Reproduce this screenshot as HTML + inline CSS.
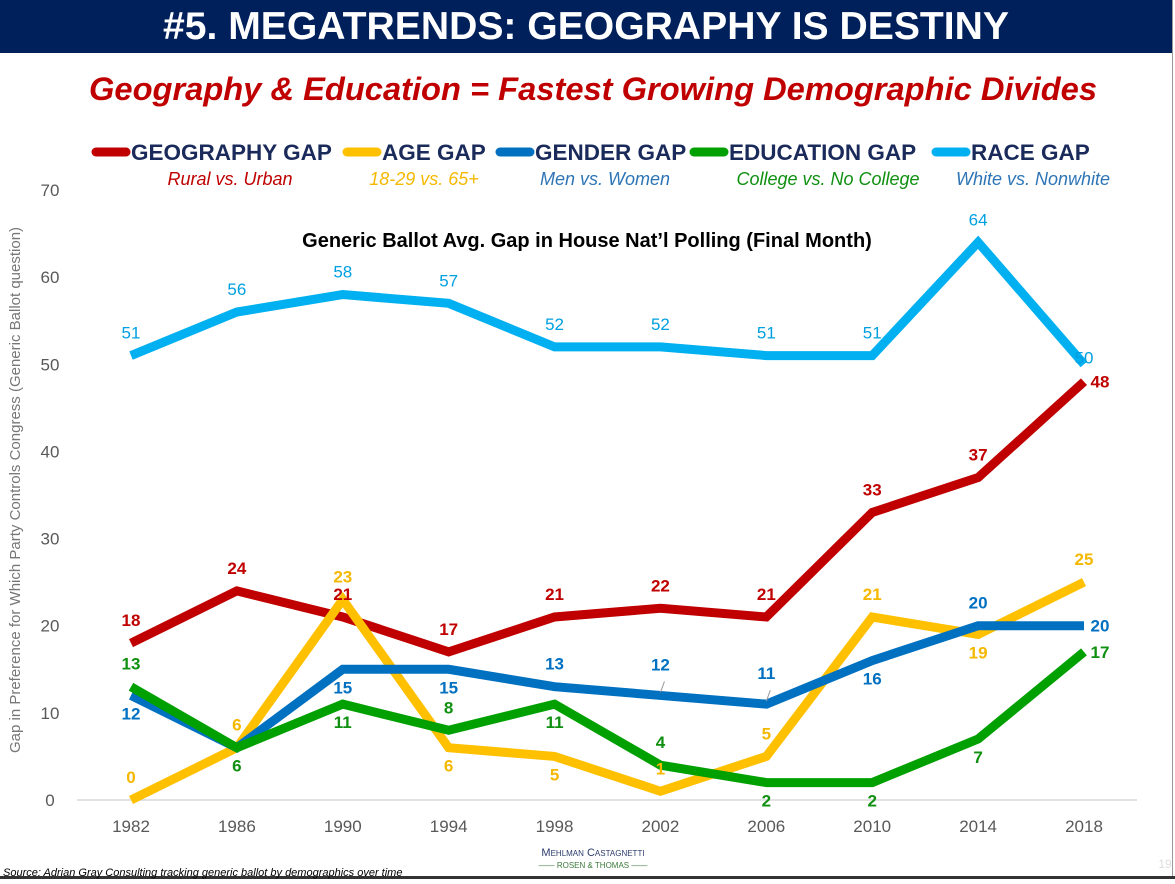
<!DOCTYPE html>
<html><head><meta charset="utf-8"><style>
body{margin:0;width:1175px;height:879px;overflow:hidden;background:#fff;font-family:"Liberation Sans",sans-serif}
</style></head><body>
<svg width="1175" height="879" xmlns="http://www.w3.org/2000/svg" id="svg">
<rect x="0" y="0" width="1172" height="53" fill="#00205b"/>
<line x1="1172.5" y1="0" x2="1172.5" y2="879" stroke="#999"/>
<rect x="0" y="876" width="1175" height="3" fill="#333"/>
<text x="586" y="39" text-anchor="middle" font-size="39" font-weight="bold" fill="#fff" textLength="846" lengthAdjust="spacingAndGlyphs">#5. MEGATRENDS: GEOGRAPHY IS DESTINY</text>
<text x="593" y="100" text-anchor="middle" font-size="32" font-weight="bold" font-style="italic" fill="#c00000" textLength="1008" lengthAdjust="spacingAndGlyphs">Geography &amp; Education = Fastest Growing Demographic Divides</text>
<g id="legend"></g>
<text x="587" y="247" text-anchor="middle" font-size="20" font-weight="bold" fill="#000">Generic Ballot Avg. Gap in House Nat’l Polling (Final Month)</text>
<text transform="translate(20,490) rotate(-90)" text-anchor="middle" font-size="15" fill="#777">Gap in Preference for Which Party Controls Congress (Generic Ballot question)</text>
<g id="axes"></g>
<g id="series"></g>
<text x="3" y="876" font-size="11" font-style="italic" fill="#000">Source: Adrian Gray Consulting tracking generic ballot by demographics over time</text>
<text x="593" y="856" text-anchor="middle" font-size="11" fill="#2b3a6b" font-variant="small-caps">Mehlman Castagnetti</text>
<text x="593" y="868" text-anchor="middle" font-size="8" fill="#3a7a3a">—— ROSEN &amp; THOMAS ——</text>
<text x="1165" y="868" text-anchor="middle" font-size="12" fill="#ddd">19</text>
</svg>
<script>
const years=[1982,1986,1990,1994,1998,2002,2006,2010,2014,2018];
const yTicks=[0,10,20,30,40,50,60,70];
const race=[51,56,58,57,52,52,51,51,64,50];
const geography=[18,24,21,17,21,22,21,33,37,48];
const age=[0,6,23,6,5,1,5,21,19,25];
const gender=[12,6,15,15,13,12,11,16,20,20];
const education=[13,6,11,8,11,4,2,2,7,17];
const legendNames=["GEOGRAPHY GAP","AGE GAP","GENDER GAP","EDUCATION GAP","RACE GAP"];
const legendSubs=["Rural vs. Urban","18-29 vs. 65+","Men vs. Women","College vs. No College","White vs. Nonwhite"];

const NS="http://www.w3.org/2000/svg";
const xS=i=>131+i*(1084-131)/(years.length-1);
const yS=v=>800-v*(800-190)/70;
function mk(tag,attrs,parent,txt){const e=document.createElementNS(NS,tag);for(const k in attrs)e.setAttribute(k,attrs[k]);if(txt!==undefined)e.textContent=txt;parent.appendChild(e);return e;}
const axes=document.getElementById('axes'),ser=document.getElementById('series'),leg=document.getElementById('legend');
let bl=mk('line',{x1:77,x2:1137,y1:yS(0),y2:yS(0),stroke:'#d9d9d9','stroke-width':1.5},axes);


yTicks.forEach(t=>{const e=mk('text',{x:50,y:yS(t)+6,'text-anchor':'middle','font-size':17,fill:'#595959'},axes,t);

});
years.forEach((y,i)=>{const e=mk('text',{x:xS(i),y:832,'text-anchor':'middle','font-size':17,fill:'#595959'},axes,y);

});

const series=[
 {name:'race',vals:race,col:'#00b0f0',lab:'#00a0e0',pos:['a','a','a','a','a','a','a','a','a','c']},
 {name:'geography',vals:geography,col:'#c00000',lab:'#c00000',pos:['a','a','a','a','a','a','a','a','a','r']},
 {name:'age',vals:age,col:'#ffc000',lab:'#f5b800',pos:['a','a','a','b','b','a','a','a','b','a']},
 {name:'gender',vals:gender,col:'#0070c0',lab:'#0070c0',pos:['b','n','b','b','a','A','A','b','a','r']},
 {name:'education',vals:education,col:'#00a000',lab:'#109010',pos:['a','b','b','a','b','a','b','b','b','r']}
];
series.forEach(s=>{
 const pts=s.vals.map((v,i)=>xS(i)+','+yS(v)).join(' ');
 const p=mk('polyline',{points:pts,fill:'none',stroke:s.col,'stroke-width':9,'stroke-linejoin':'miter'},ser);
 
 
});
series.forEach(s=>{
 s.vals.forEach((v,i)=>{
  const q=s.pos[i]; if(q==='n')return;
  let x=xS(i),y=yS(v);
  if(q==='a')y-=17; else if(q==='A'){
   const ld=mk('line',{x1:x,y1:y-3,x2:x+4,y2:y-14,stroke:'#999','stroke-width':1},ser);
   
   
   y-=25;
  } else if(q==='b')y+=24; else if(q==='r'){x+=16;y+=6;} else if(q==='c'){y-=1;}
  const t=mk('text',{x:x,y:y,'text-anchor':'middle','font-size':17,'font-weight':s.name==='race'?'normal':'bold',fill:s.lab},ser,v);
  
  
 });
});
const lx=[92,343,496,690,932],lcol=['#c00000','#ffc000','#0070c0','#00a000','#00b0f0'],scol=['#c00000','#f5b800','#2e75b6','#109010','#2e75b6'];
legendNames.forEach((n,i)=>{
 const l=mk('line',{x1:lx[i]+4,x2:lx[i]+34,y1:152,y2:152,stroke:lcol[i],'stroke-width':9,'stroke-linecap':'round'},leg);
 
 
 const t=mk('text',{x:lx[i]+39,y:160,'font-size':22.5,'font-weight':'bold',fill:'#1a2a5a'},leg,n);
 
 
});
const sx=[230,424,605,828,1033];
legendSubs.forEach((n,i)=>{
 const t=mk('text',{x:sx[i],y:185,'text-anchor':'middle','font-size':18,'font-style':'italic',fill:scol[i]},leg,n);
 
 
});
</script>
</body></html>
